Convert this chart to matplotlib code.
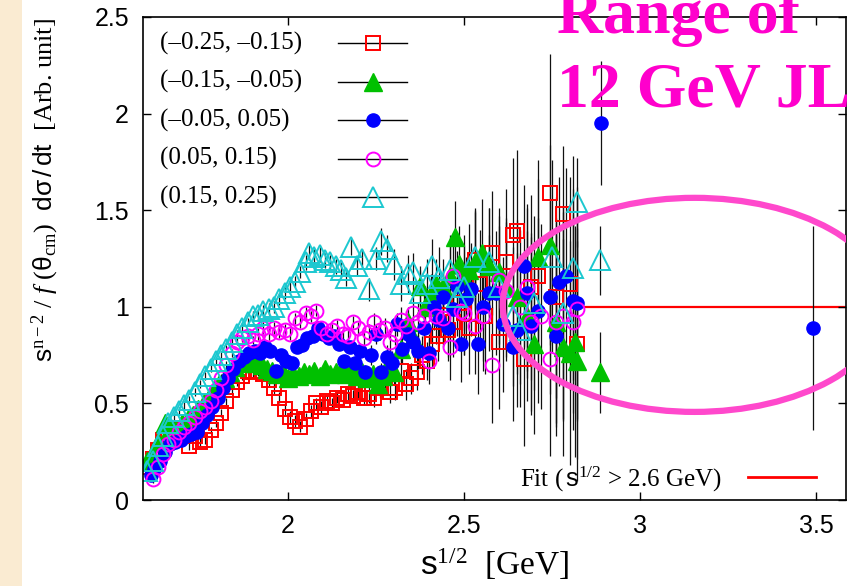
import matplotlib
matplotlib.use('Agg')
import matplotlib.pyplot as plt
from matplotlib.patches import Ellipse, Rectangle

plt.rcParams['mathtext.fontset'] = 'custom'
plt.rcParams['mathtext.rm'] = 'Liberation Serif'
plt.rcParams['mathtext.it'] = 'Liberation Serif:italic'
plt.rcParams['mathtext.bf'] = 'Liberation Serif:bold'
plt.rcParams['mathtext.sf'] = 'Liberation Sans'
plt.rcParams['font.family'] = ['Liberation Serif', 'DejaVu Sans']

# ---- data: s^{1/2} [GeV], scaled cross section, error --------------------
# (-0.25, -0.15)
red_x = [1.600, 1.615, 1.630, 1.645, 1.660, 1.675, 1.690, 1.705, 1.720, 1.735,
         1.750, 1.765, 1.780, 1.795, 1.810, 1.825, 1.840, 1.855, 1.870, 1.885,
         1.900, 1.915, 1.930, 1.945, 1.960, 1.975, 1.990, 2.005, 2.020, 2.035,
         2.050, 2.065, 2.080, 2.095, 2.110, 2.125, 2.140, 2.155, 2.170, 2.185,
         2.200, 2.215, 2.230, 2.245, 2.260, 2.275, 2.290, 2.305, 2.320, 2.335,
         2.350, 2.365, 2.380, 2.395, 2.410, 2.425, 2.440, 2.455, 2.470, 2.485,
         2.500, 2.515, 2.530, 2.545, 2.560, 2.580, 2.600, 2.620, 2.640, 2.650,
         2.670, 2.690, 2.710, 2.745, 2.760, 2.780, 2.800, 2.820]
red_y = [0.17, 0.21, 0.26, 0.31, 0.35, 0.37, 0.33, 0.35, 0.28, 0.33,
         0.30, 0.31, 0.36, 0.40, 0.45, 0.51, 0.57, 0.61, 0.64, 0.67,
         0.66, 0.67, 0.65, 0.62, 0.58, 0.53, 0.47, 0.43, 0.41, 0.38,
         0.42, 0.46, 0.50, 0.48, 0.51, 0.50, 0.53, 0.52, 0.55, 0.54,
         0.56, 0.53, 0.55, 0.53, 0.58, 0.64, 0.56, 0.58, 0.67, 0.60,
         0.63, 0.66, 0.75, 0.72, 0.81, 0.85, 0.96, 0.88, 0.92, 1.02,
         0.97, 0.89, 1.24, 1.12, 0.95, 1.28, 0.82, 1.23, 1.37, 1.39,
         0.73, 1.10, 1.16, 1.59, 1.05, 1.48, 1.12, 0.81]
red_e = [0.02, 0.02, 0.02, 0.02, 0.02, 0.02, 0.02, 0.02, 0.02, 0.02,
         0.02, 0.02, 0.02, 0.02, 0.02, 0.02, 0.02, 0.02, 0.02, 0.02,
         0.03, 0.03, 0.03, 0.03, 0.03, 0.03, 0.03, 0.03, 0.03, 0.03,
         0.03, 0.03, 0.03, 0.03, 0.03, 0.03, 0.03, 0.03, 0.03, 0.03,
         0.04, 0.04, 0.05, 0.05, 0.05, 0.06, 0.06, 0.06, 0.07, 0.08,
         0.08, 0.09, 0.10, 0.10, 0.12, 0.13, 0.15, 0.16, 0.18, 0.20,
         0.22, 0.24, 0.26, 0.28, 0.30, 0.32, 0.35, 0.38, 0.40, 0.42,
         0.45, 0.48, 0.50, 0.72, 0.52, 0.35, 0.55, 0.60]

# (-0.15, -0.05)
green_x = [1.600, 1.615, 1.630, 1.650, 1.665, 1.680, 1.700, 1.715, 1.730, 1.745,
           1.760, 1.775, 1.790, 1.805, 1.820, 1.835, 1.850, 1.865, 1.880, 1.895,
           1.910, 1.925, 1.940, 1.955, 1.970, 1.985, 2.000, 2.015, 2.030, 2.045,
           2.060, 2.075, 2.090, 2.105, 2.120, 2.135, 2.150, 2.165, 2.180, 2.195,
           2.210, 2.225, 2.240, 2.255, 2.270, 2.285, 2.300, 2.320, 2.340, 2.355,
           2.375, 2.390, 2.405, 2.420, 2.440, 2.460, 2.475, 2.485, 2.500, 2.515,
           2.530, 2.550, 2.570, 2.600, 2.620, 2.650, 2.680, 2.700, 2.710, 2.745,
           2.760, 2.780, 2.800, 2.815, 2.820, 2.885]
green_y = [0.20, 0.22, 0.30, 0.40, 0.37, 0.36, 0.40, 0.42, 0.44, 0.47,
           0.50, 0.53, 0.57, 0.60, 0.63, 0.66, 0.69, 0.71, 0.72, 0.73,
           0.71, 0.70, 0.68, 0.67, 0.65, 0.66, 0.63, 0.65, 0.64, 0.66,
           0.65, 0.67, 0.64, 0.68, 0.65, 0.66, 0.67, 0.65, 0.67, 0.64,
           0.66, 0.63, 0.65, 0.60, 0.64, 0.70, 0.66, 0.78, 0.92, 0.84,
           1.11, 1.00, 1.05, 1.12, 1.10, 1.16, 1.36, 1.22, 1.15, 1.19,
           1.23, 1.28, 1.21, 1.18, 1.10, 1.05, 0.95, 0.81, 1.26, 1.32,
           0.92, 0.79, 0.76, 0.82, 0.72, 0.66]
green_e = [0.02, 0.02, 0.02, 0.02, 0.02, 0.02, 0.02, 0.02, 0.02, 0.02,
           0.02, 0.02, 0.02, 0.02, 0.02, 0.02, 0.02, 0.02, 0.02, 0.02,
           0.03, 0.03, 0.03, 0.03, 0.03, 0.03, 0.03, 0.03, 0.03, 0.03,
           0.03, 0.03, 0.03, 0.03, 0.03, 0.03, 0.03, 0.03, 0.03, 0.03,
           0.04, 0.04, 0.05, 0.05, 0.05, 0.06, 0.06, 0.07, 0.08, 0.09,
           0.10, 0.11, 0.12, 0.13, 0.15, 0.17, 0.19, 0.20, 0.22, 0.24,
           0.26, 0.28, 0.30, 0.33, 0.36, 0.40, 0.44, 0.47, 0.50, 0.52,
           0.54, 0.56, 0.58, 0.60, 0.62, 0.21]

# (-0.05, 0.05)
blue_x = [1.610, 1.620, 1.635, 1.650, 1.665, 1.680, 1.695, 1.710, 1.725, 1.740,
          1.755, 1.770, 1.785, 1.800, 1.815, 1.830, 1.845, 1.860, 1.875, 1.890,
          1.905, 1.920, 1.935, 1.950, 1.965, 1.980, 1.995, 2.010, 2.025, 2.040,
          2.055, 2.070, 2.085, 2.100, 2.115, 2.130, 2.145, 2.160, 2.175, 2.190,
          2.205, 2.220, 2.235, 2.250, 2.265, 2.280, 2.295, 2.310, 2.325, 2.340,
          2.355, 2.370, 2.385, 2.400, 2.415, 2.430, 2.440, 2.455, 2.470, 2.480,
          2.490, 2.505, 2.520, 2.540, 2.555, 2.570, 2.590, 2.610, 2.640, 2.650,
          2.670, 2.680, 2.690, 2.710, 2.745, 2.760, 2.770, 2.790, 2.810, 2.820,
          2.890, 3.490]
blue_y = [0.13, 0.16, 0.20, 0.25, 0.29, 0.30, 0.31, 0.33, 0.34, 0.35,
          0.40, 0.44, 0.48, 0.53, 0.58, 0.63, 0.68, 0.72, 0.74, 0.76,
          0.77, 0.76, 0.79, 0.77, 0.67, 0.75, 0.72, 0.71, 0.79, 0.80,
          0.84, 0.85, 0.89, 0.86, 0.84, 0.85, 0.81, 0.72, 0.79, 0.71,
          0.77, 0.66, 0.75, 0.86, 0.66, 0.74, 0.71, 0.91, 0.78, 0.86,
          0.82, 0.77, 0.89, 0.76, 1.00, 0.93, 1.05, 0.89, 0.99, 1.11,
          0.81, 1.04, 1.09, 0.81, 1.00, 1.07, 1.07, 0.91, 0.79, 0.88,
          1.21, 1.07, 0.90, 0.98, 1.05, 0.85, 1.13, 1.16, 1.03, 1.02,
          1.95, 0.89]
blue_e = [0.02, 0.02, 0.02, 0.02, 0.02, 0.02, 0.02, 0.02, 0.02, 0.02,
          0.02, 0.02, 0.02, 0.02, 0.02, 0.02, 0.02, 0.02, 0.02, 0.02,
          0.03, 0.03, 0.03, 0.03, 0.03, 0.03, 0.03, 0.03, 0.03, 0.03,
          0.03, 0.03, 0.03, 0.03, 0.03, 0.03, 0.03, 0.03, 0.03, 0.03,
          0.04, 0.04, 0.05, 0.05, 0.05, 0.06, 0.06, 0.06, 0.07, 0.08,
          0.08, 0.09, 0.10, 0.10, 0.12, 0.13, 0.14, 0.15, 0.17, 0.18,
          0.20, 0.22, 0.24, 0.26, 0.28, 0.30, 0.32, 0.35, 0.38, 0.40,
          0.42, 0.44, 0.46, 0.48, 0.50, 0.52, 0.54, 0.56, 0.58, 0.60,
          0.32, 0.53]

# (0.05, 0.15)
mag_x = [1.615, 1.630, 1.645, 1.660, 1.675, 1.690, 1.705, 1.720, 1.735, 1.750,
         1.765, 1.780, 1.795, 1.810, 1.825, 1.840, 1.855, 1.870, 1.885, 1.900,
         1.915, 1.930, 1.945, 1.960, 1.975, 1.990, 2.005, 2.020, 2.035, 2.050,
         2.065, 2.080, 2.095, 2.110, 2.125, 2.140, 2.155, 2.170, 2.185, 2.200,
         2.215, 2.230, 2.245, 2.260, 2.275, 2.290, 2.305, 2.320, 2.335, 2.355,
         2.370, 2.385, 2.400, 2.420, 2.440, 2.460, 2.470, 2.490, 2.500, 2.530,
         2.555, 2.580, 2.600, 2.620, 2.660, 2.680, 2.690, 2.720, 2.745, 2.760,
         2.780, 2.810, 2.820]
mag_y = [0.11, 0.17, 0.24, 0.29, 0.31, 0.35, 0.38, 0.40, 0.43, 0.46,
         0.48, 0.51, 0.57, 0.63, 0.70, 0.76, 0.82, 0.84, 0.85, 0.83,
         0.86, 0.89, 0.86, 0.89, 0.87, 0.88, 0.86, 0.94, 0.92, 0.97,
         0.95, 0.98, 0.89, 0.86, 0.88, 0.90, 0.86, 0.85, 0.92, 0.89,
         0.84, 0.87, 0.92, 0.88, 0.89, 0.82, 0.86, 0.93, 0.90, 0.97,
         0.92, 0.95, 0.72, 0.95, 0.94, 0.79, 1.16, 0.98, 0.97, 0.90,
         0.95, 0.70, 1.14, 1.08, 1.00, 1.10, 0.92, 0.95, 0.73, 0.92,
         0.95, 0.92, 0.99]
mag_e = [0.02, 0.02, 0.02, 0.02, 0.02, 0.02, 0.02, 0.02, 0.02, 0.02,
         0.02, 0.02, 0.02, 0.02, 0.02, 0.02, 0.02, 0.02, 0.02, 0.02,
         0.03, 0.03, 0.03, 0.03, 0.03, 0.03, 0.03, 0.03, 0.03, 0.03,
         0.03, 0.03, 0.03, 0.03, 0.03, 0.03, 0.03, 0.03, 0.03, 0.03,
         0.04, 0.04, 0.05, 0.05, 0.05, 0.06, 0.06, 0.07, 0.08, 0.09,
         0.10, 0.11, 0.12, 0.14, 0.15, 0.17, 0.18, 0.20, 0.22, 0.25,
         0.28, 0.30, 0.33, 0.36, 0.40, 0.43, 0.46, 0.48, 0.50, 0.52,
         0.54, 0.56, 0.58]

# (0.15, 0.25)
cyan_x = [1.600, 1.615, 1.630, 1.645, 1.660, 1.675, 1.690, 1.705, 1.720, 1.735,
          1.750, 1.765, 1.780, 1.795, 1.810, 1.825, 1.840, 1.855, 1.870, 1.885,
          1.900, 1.915, 1.930, 1.945, 1.960, 1.975, 1.990, 2.005, 2.020, 2.035,
          2.050, 2.060, 2.075, 2.090, 2.105, 2.120, 2.135, 2.150, 2.165, 2.180,
          2.195, 2.210, 2.230, 2.250, 2.265, 2.280, 2.300, 2.320, 2.340, 2.355,
          2.375, 2.395, 2.410, 2.430, 2.460, 2.480, 2.500, 2.530, 2.570, 2.600,
          2.640, 2.660, 2.700, 2.750, 2.780, 2.810, 2.820, 2.885]
cyan_y = [0.15, 0.20, 0.28, 0.33, 0.40, 0.43, 0.46, 0.49, 0.52, 0.56,
          0.60, 0.64, 0.68, 0.72, 0.75, 0.78, 0.82, 0.86, 0.89, 0.92,
          0.95, 0.96, 0.98, 0.99, 1.00, 1.04, 1.07, 1.10, 1.13, 1.18,
          1.23, 1.28, 1.26, 1.27, 1.24, 1.23, 1.21, 1.19, 1.15, 1.31,
          1.21, 1.25, 1.09, 1.25, 1.34, 1.30, 1.22, 1.12, 1.17, 1.18,
          1.07, 1.12, 1.21, 1.15, 1.19, 1.05, 1.10, 1.26, 1.23, 1.10,
          0.95, 0.88, 1.02, 1.26, 0.97, 1.20, 1.54, 1.24]
cyan_e = [0.02, 0.02, 0.02, 0.02, 0.02, 0.02, 0.02, 0.02, 0.02, 0.02,
          0.02, 0.02, 0.02, 0.02, 0.02, 0.02, 0.02, 0.02, 0.02, 0.02,
          0.03, 0.03, 0.03, 0.03, 0.03, 0.03, 0.03, 0.03, 0.03, 0.03,
          0.04, 0.04, 0.04, 0.04, 0.04, 0.04, 0.04, 0.04, 0.04, 0.04,
          0.05, 0.05, 0.06, 0.06, 0.07, 0.07, 0.08, 0.09, 0.10, 0.10,
          0.12, 0.13, 0.14, 0.16, 0.18, 0.20, 0.22, 0.25, 0.28, 0.32,
          0.36, 0.40, 0.45, 0.50, 0.55, 0.58, 0.23, 0.18]

labels = ['(\u20130.25, \u20130.15)', '(\u20130.15, \u20130.05)', '(\u20130.05, 0.05)',
          '(0.05, 0.15)', '(0.15, 0.25)']

# fit for s^{1/2} > 2.6 GeV
fit_x = [2.84, 3.60]
fit_y = [1.0, 1.0]

xticks = [2, 2.5, 3, 3.5]
xtick_labels = ['2', '2.5', '3', '3.5']
yticks = [0, 0.5, 1, 1.5, 2, 2.5]
ytick_labels = ['0', '0.5', '1', '1.5', '2', '2.5']

# ---- styles ----------------------------------------------------------------
styles = [
    dict(marker='s', ms=10, mfc='none', mec='#FF0000', mew=1.4),
    dict(marker='^', ms=13, mfc='#00C000', mec='#00C000', mew=1.0),
    dict(marker='o', ms=9.5, mfc='#0000FF', mec='#0000FF', mew=1.0),
    dict(marker='o', ms=10, mfc='none', mec='#FF00FF', mew=1.4),
    dict(marker='^', ms=14, mfc='none', mec='#1CC8D0', mew=1.4),
]
data = [(red_x, red_y, red_e), (green_x, green_y, green_e), (blue_x, blue_y, blue_e),
        (mag_x, mag_y, mag_e), (cyan_x, cyan_y, cyan_e)]

W, H = 847, 586
fig = plt.figure(figsize=(W / 100, H / 100), dpi=100)
fig.patches.append(Rectangle((0, 0), 22 / W, 1, transform=fig.transFigure,
                             facecolor='#FAEBD2', edgecolor='none', zorder=0))

ax = fig.add_axes([143 / W, 1 - 500 / H, 703 / W, 483 / H])

for (x, y, e), st in zip(data, styles):
    ax.errorbar(x, y, yerr=e, linestyle='none', ecolor='#111111',
                elinewidth=0.9, capsize=0, **st)

ax.plot(fit_x, fit_y, color='#FF0000', lw=1.6, zorder=1)

ax.add_patch(Ellipse((3.155, 1.01), 1.09, 1.108, fill=False,
                     edgecolor='#FF48CC', lw=4.5, zorder=10))

# key, gnuplot style: text left, sample to the right
for i, (lab, st) in enumerate(zip(labels, styles)):
    yk = (500 - (43 + 38.5 * i)) / 483
    ax.text(0.024, yk, lab, transform=ax.transAxes, fontsize=18,
            ha='left', va='center')
    ax.plot([0.277, 0.376], [yk, yk], color='black', lw=1.0,
            transform=ax.transAxes)
    ax.plot([0.327], [yk], transform=ax.transAxes, linestyle='none', **st)

ax.text(0.8236, 0.027, r'Fit ($\,\mathsf{s}^{\mathrm{1/2}}$ > 2.6 GeV)',
        transform=ax.transAxes, fontsize=18, ha='right', va='baseline')
ax.plot([0.861, 0.957], [0.0476, 0.0476], color='#FF0000', lw=2.0,
        transform=ax.transAxes)

ax.set_xlim(1.588, 3.585)
ax.set_ylim(0, 2.5)
ax.set_xticks(xticks)
ax.set_xticklabels(xtick_labels)
ax.set_yticks(yticks)
ax.set_yticklabels(ytick_labels)
ax.tick_params(direction='in', top=True, right=True, length=6, width=1.0,
               labelsize=18)
ax.tick_params(axis='x', pad=10)
ax.tick_params(axis='y', pad=10)
for t in ax.get_xticklabels() + ax.get_yticklabels():
    t.set_fontfamily('Liberation Sans')
for sp in ax.spines.values():
    sp.set_linewidth(1.2)

fig.text(495 / W, 1 - 575 / H, r'$\mathsf{s}^{\mathrm{1/2}}$  [GeV]',
         fontsize=24, ha='center', va='baseline')
fig.text(45 / W, 1 - 190 / H,
         r'$\mathsf{s}^{\mathrm{n-2}}$ / $f$ ($\mathsf{\theta}_{\mathrm{cm}}$)  '
         r'$\mathsf{d\sigma\,/\,dt}$  [Arb. unit]',
         fontsize=19, rotation=90, ha='center', va='center')

# annotation, deliberately running off the top/right edge as in the slide
fig.text(557 / W, 1 - 33 / H, 'Range of', fontsize=46, fontweight='bold',
         color='#FF00CC', ha='left', va='baseline', zorder=20)
fig.text(557 / W, 1 - 107 / H, '12 GeV JLab', fontsize=46, fontweight='bold',
         color='#FF00CC', ha='left', va='baseline', zorder=20)

fig.savefig('out.png', dpi=100)
